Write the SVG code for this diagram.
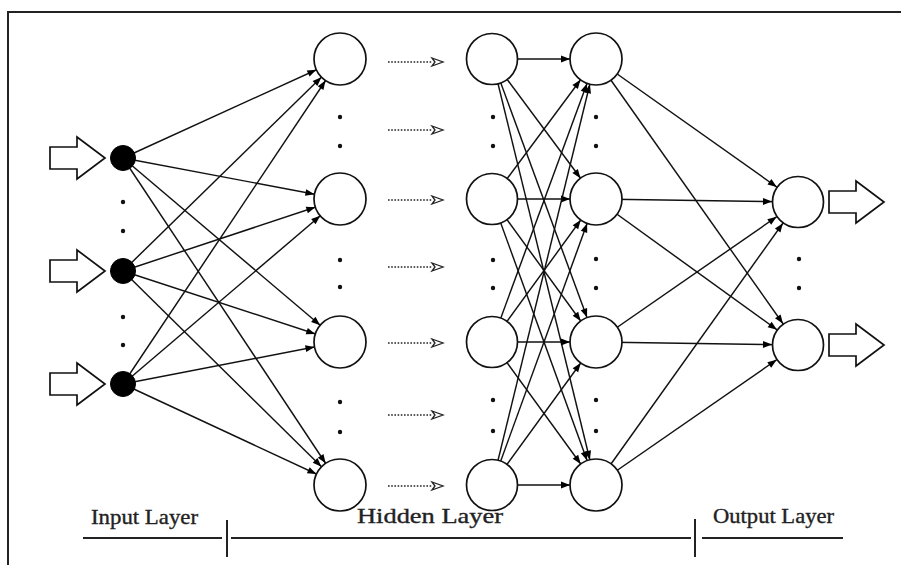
<svg xmlns="http://www.w3.org/2000/svg" width="901" height="565" viewBox="0 0 901 565">
  <style>
    .frame { fill: none; stroke: #222; stroke-width: 2; }
    .link { stroke: #111; stroke-width: 1.45; fill: none; marker-end: url(#head); }
    .node { fill: #fff; stroke: #111; stroke-width: 1.7; }
    .input { fill: #000; stroke: #000; stroke-width: 1; }
    .block { fill: #fff; stroke: #111; stroke-width: 1.7; stroke-linejoin: miter; }
    .dot { fill: #111; }
    .dotted { stroke: #222; stroke-width: 1.5; stroke-dasharray: 1.6 1.6; fill: none; }
    .flow { fill: #fff; stroke: #222; stroke-width: 1.3; }
    .rule { stroke: #222; stroke-width: 2; fill: none; }
    .label { font-family: "Liberation Serif", "Times New Roman", serif; font-size: 21px; fill: #222; stroke: #222; stroke-width: 0.35; }
  </style>
  <defs>
    <!-- arrowhead whose tip sits 26px back from the line end (the circle edge) -->
    <marker id="head" markerUnits="userSpaceOnUse" viewBox="-40 -6 44 12" markerWidth="44" markerHeight="12" refX="0" refY="0" orient="auto">
      <path d="M-26,0 L-35,-3.4 L-35,3.4 Z" fill="#000"/>
    </marker>
    <!-- hollow block arrow, tip at (55,0) -->
    <path id="block" d="M0,-11 H27 V-21 L55,0 L27,21 V11 H0 Z"/>
    <!-- small open head used by the dotted flow arrows -->
    <path id="flowhead" d="M0,-4 L11,0 L0,4 L3,0 Z"/>
  </defs>

  <rect class="frame" x="8" y="12" width="900" height="560"/>

  <!-- weighted connections -->
  <g id="connectors">
    <!-- input layer to first hidden column -->
    <line class="link" x1="123" y1="158" x2="340" y2="59"/>
    <line class="link" x1="123" y1="158" x2="340" y2="199"/>
    <line class="link" x1="123" y1="158" x2="340" y2="342"/>
    <line class="link" x1="123" y1="158" x2="340" y2="485"/>
    <line class="link" x1="123" y1="271" x2="340" y2="59"/>
    <line class="link" x1="123" y1="271" x2="340" y2="199"/>
    <line class="link" x1="123" y1="271" x2="340" y2="342"/>
    <line class="link" x1="123" y1="271" x2="340" y2="485"/>
    <line class="link" x1="123" y1="384" x2="340" y2="59"/>
    <line class="link" x1="123" y1="384" x2="340" y2="199"/>
    <line class="link" x1="123" y1="384" x2="340" y2="342"/>
    <line class="link" x1="123" y1="384" x2="340" y2="485"/>
    <!-- last two hidden columns, fully connected -->
    <line class="link" x1="492" y1="59" x2="596" y2="59"/>
    <line class="link" x1="492" y1="59" x2="596" y2="199"/>
    <line class="link" x1="492" y1="59" x2="596" y2="342"/>
    <line class="link" x1="492" y1="59" x2="596" y2="485"/>
    <line class="link" x1="492" y1="199" x2="596" y2="59"/>
    <line class="link" x1="492" y1="199" x2="596" y2="199"/>
    <line class="link" x1="492" y1="199" x2="596" y2="342"/>
    <line class="link" x1="492" y1="199" x2="596" y2="485"/>
    <line class="link" x1="492" y1="342" x2="596" y2="59"/>
    <line class="link" x1="492" y1="342" x2="596" y2="199"/>
    <line class="link" x1="492" y1="342" x2="596" y2="342"/>
    <line class="link" x1="492" y1="342" x2="596" y2="485"/>
    <line class="link" x1="492" y1="485" x2="596" y2="59"/>
    <line class="link" x1="492" y1="485" x2="596" y2="199"/>
    <line class="link" x1="492" y1="485" x2="596" y2="342"/>
    <line class="link" x1="492" y1="485" x2="596" y2="485"/>
    <!-- last hidden column to output layer -->
    <line class="link" x1="596" y1="59" x2="798" y2="202"/>
    <line class="link" x1="596" y1="59" x2="798" y2="345"/>
    <line class="link" x1="596" y1="199" x2="798" y2="202"/>
    <line class="link" x1="596" y1="199" x2="798" y2="345"/>
    <line class="link" x1="596" y1="342" x2="798" y2="202"/>
    <line class="link" x1="596" y1="342" x2="798" y2="345"/>
    <line class="link" x1="596" y1="485" x2="798" y2="202"/>
    <line class="link" x1="596" y1="485" x2="798" y2="345"/>
    <!-- dotted flow through the inner hidden layers -->
    <g id="flow">
      <line class="dotted" x1="388" y1="62" x2="432" y2="62"/><use href="#flowhead" class="flow" x="432" y="62"/>
      <line class="dotted" x1="388" y1="130" x2="432" y2="130"/><use href="#flowhead" class="flow" x="432" y="130"/>
      <line class="dotted" x1="388" y1="200" x2="432" y2="200"/><use href="#flowhead" class="flow" x="432" y="200"/>
      <line class="dotted" x1="388" y1="267" x2="432" y2="267"/><use href="#flowhead" class="flow" x="432" y="267"/>
      <line class="dotted" x1="388" y1="343" x2="432" y2="343"/><use href="#flowhead" class="flow" x="432" y="343"/>
      <line class="dotted" x1="388" y1="415" x2="432" y2="415"/><use href="#flowhead" class="flow" x="432" y="415"/>
      <line class="dotted" x1="388" y1="486" x2="432" y2="486"/><use href="#flowhead" class="flow" x="432" y="486"/>
    </g>
  </g>

  <!-- input signals -->
  <g id="in-arrows">
    <use href="#block" class="block" x="50" y="158"/>
    <use href="#block" class="block" x="50" y="271"/>
    <use href="#block" class="block" x="50" y="384"/>
  </g>

  <!-- input layer -->
  <g id="in1"><circle class="input" cx="123" cy="158" r="12.5"/></g>
  <g id="in2"><circle class="input" cx="123" cy="271" r="12.5"/></g>
  <g id="in3"><circle class="input" cx="123" cy="384" r="12.5"/></g>

  <!-- hidden layer, first column -->
  <g id="h1a"><circle class="node" cx="340" cy="59" r="26"/></g>
  <g id="h1b"><circle class="node" cx="340" cy="199" r="26"/></g>
  <g id="h1c"><circle class="node" cx="340" cy="342" r="26"/></g>
  <g id="h1d"><circle class="node" cx="340" cy="485" r="26"/></g>

  <!-- hidden layer, second column -->
  <g id="h2a"><circle class="node" cx="492" cy="59" r="25.5"/></g>
  <g id="h2b"><circle class="node" cx="492" cy="199" r="25.5"/></g>
  <g id="h2c"><circle class="node" cx="492" cy="342" r="25.5"/></g>
  <g id="h2d"><circle class="node" cx="492" cy="485" r="25.5"/></g>

  <!-- hidden layer, third column -->
  <g id="h3a"><circle class="node" cx="596" cy="59" r="26"/></g>
  <g id="h3b"><circle class="node" cx="596" cy="199" r="26"/></g>
  <g id="h3c"><circle class="node" cx="596" cy="342" r="26"/></g>
  <g id="h3d"><circle class="node" cx="596" cy="485" r="26"/></g>

  <!-- output layer -->
  <g id="out1"><circle class="node" cx="798" cy="202" r="25.5"/></g>
  <g id="out2"><circle class="node" cx="798" cy="345" r="25.5"/></g>

  <!-- output signals -->
  <g id="out-arrows">
    <use href="#block" class="block" x="829" y="202"/>
    <use href="#block" class="block" x="829" y="345"/>
  </g>

  <!-- ellipsis dots between units -->
  <g id="ellipses">
    <circle class="dot" cx="123" cy="202" r="2.2"/>
    <circle class="dot" cx="123" cy="231" r="2.2"/>
    <circle class="dot" cx="123" cy="317" r="2.2"/>
    <circle class="dot" cx="123" cy="345" r="2.2"/>

    <circle class="dot" cx="340" cy="117" r="2.2"/>
    <circle class="dot" cx="340" cy="146" r="2.2"/>
    <circle class="dot" cx="340" cy="260" r="2.2"/>
    <circle class="dot" cx="340" cy="287" r="2.2"/>
    <circle class="dot" cx="340" cy="402" r="2.2"/>
    <circle class="dot" cx="340" cy="432" r="2.2"/>

    <circle class="dot" cx="493" cy="117" r="2.2"/>
    <circle class="dot" cx="493" cy="146" r="2.2"/>
    <circle class="dot" cx="493" cy="260" r="2.2"/>
    <circle class="dot" cx="493" cy="288" r="2.2"/>
    <circle class="dot" cx="493" cy="400" r="2.2"/>
    <circle class="dot" cx="493" cy="431" r="2.2"/>

    <circle class="dot" cx="596" cy="117" r="2.2"/>
    <circle class="dot" cx="596" cy="146" r="2.2"/>
    <circle class="dot" cx="596" cy="259" r="2.2"/>
    <circle class="dot" cx="596" cy="288" r="2.2"/>
    <circle class="dot" cx="596" cy="400" r="2.2"/>
    <circle class="dot" cx="596" cy="431" r="2.2"/>

    <circle class="dot" cx="799" cy="259" r="2.2"/>
    <circle class="dot" cx="799" cy="288" r="2.2"/>
  </g>

  <!-- layer scale along the bottom -->
  <g id="scale">
    <line class="rule" x1="83" y1="538" x2="222" y2="538"/>
    <line class="rule" x1="227" y1="520" x2="227" y2="557"/>
    <line class="rule" x1="231" y1="538" x2="691" y2="538"/>
    <line class="rule" x1="695" y1="519" x2="695" y2="557"/>
    <line class="rule" x1="702" y1="538" x2="843" y2="538"/>
    <text class="label" x="91" y="524" textLength="107" lengthAdjust="spacingAndGlyphs">Input Layer</text>
    <text class="label" x="357" y="523" textLength="146" lengthAdjust="spacingAndGlyphs">Hidden Layer</text>
    <text class="label" x="713" y="523" textLength="121" lengthAdjust="spacingAndGlyphs">Output Layer</text>
  </g>
</svg>
